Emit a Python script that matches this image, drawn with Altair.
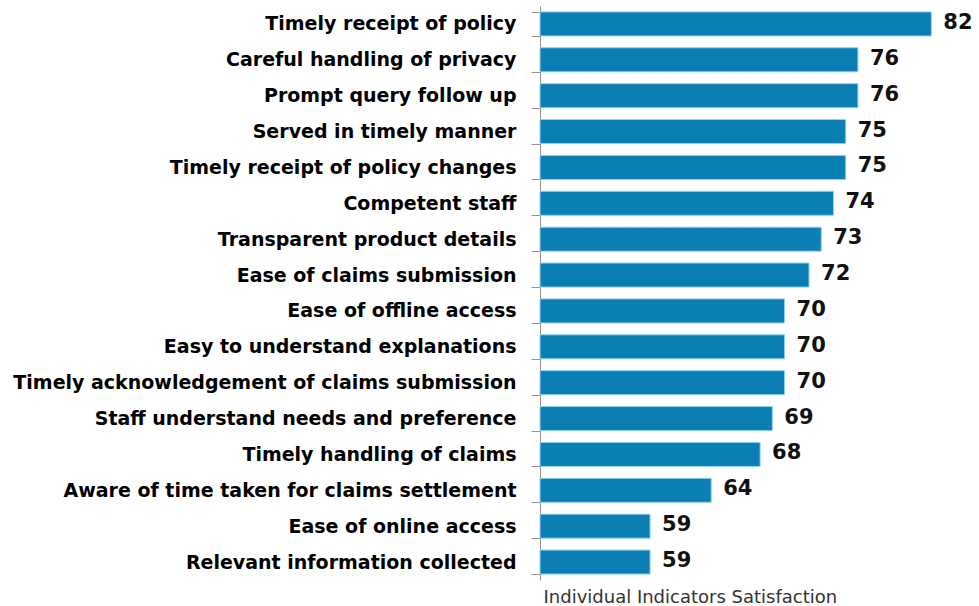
import altair as alt
import pandas as pd

categories = [
    "Timely receipt of policy",
    "Careful handling of privacy",
    "Prompt query follow up",
    "Served in timely manner",
    "Timely receipt of policy changes",
    "Competent staff",
    "Transparent product details",
    "Ease of claims submission",
    "Ease of offline access",
    "Easy to understand explanations",
    "Timely acknowledgement of claims submission",
    "Staff understand needs and preference",
    "Timely handling of claims",
    "Aware of time taken for claims settlement",
    "Ease of online access",
    "Relevant information collected",
]
values = [82, 76, 76, 75, 75, 74, 73, 72, 70, 70, 70, 69, 68, 64, 59, 59]
axis_min, axis_max = 50, 85

df = pd.DataFrame({"indicator": categories, "score": values, "base": axis_min})

y_enc = alt.Y(
    "indicator:N",
    sort=categories,
    scale=alt.Scale(paddingInner=0.33, paddingOuter=0.165),
    axis=alt.Axis(
        title=None,
        domainColor="#9a8f8a",
        tickColor="#9a8f8a",
        tickSize=9,
        tickBand="extent",
        labelFont="DejaVu Sans",
        labelFontWeight="bold",
        labelFontSize=19,
        labelColor="#000000",
        labelPadding=15,
        labelLimit=600,
        grid=False,
    ),
)

x_enc = alt.X(
    "score:Q",
    scale=alt.Scale(domain=[axis_min, axis_max], zero=False, nice=False),
    axis=alt.Axis(
        title="Individual Indicators Satisfaction",
        domain=False,
        ticks=False,
        labels=False,
        grid=False,
        titleAnchor="start",
        titleAlign="left",
        titleX=3,
        titlePadding=8,
        titleFont="DejaVu Sans",
        titleFontSize=18,
        titleFontWeight="normal",
        titleColor="#333333",
    ),
)

bars = alt.Chart(df).mark_bar(
    color="#0B7FB3", stroke="#8fd3ee", strokeWidth=1
).encode(y=y_enc, x=x_enc, x2="base:Q")

labels = alt.Chart(df).mark_text(
    align="left", baseline="middle", dx=12, dy=-1,
    font="DejaVu Sans", fontSize=21, fontWeight="bold", color="#111111"
).encode(y=y_enc, x=x_enc, text="score:Q")

chart = (
    alt.layer(bars, labels)
    .properties(
        width=428,
        height=574,
        autosize=alt.AutoSizeParams(type="none"),
        padding={"left": 540, "top": 6, "right": 11, "bottom": 26},
        background="white",
    )
    .configure_view(stroke=None)
)

chart.save("out.html", embed_options={"renderer": "svg", "actions": False})
